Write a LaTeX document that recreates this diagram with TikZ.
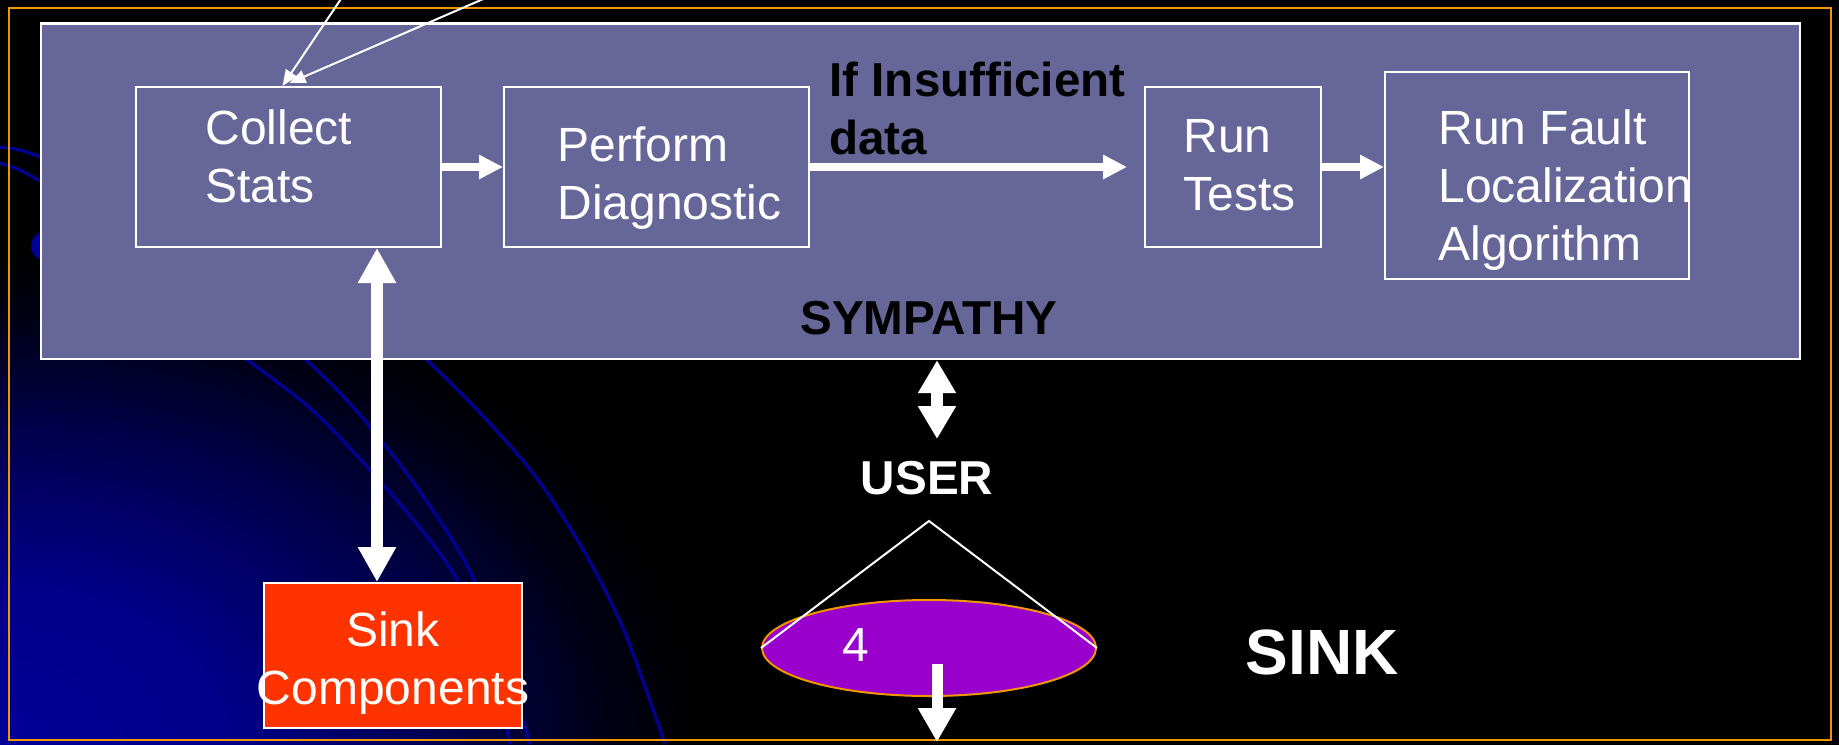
\documentclass[tikz,border=0pt]{standalone}
\usepackage{fontspec}
\setmainfont{Liberation Sans}
\usetikzlibrary{arrows.meta,fit,calc,shapes.geometric}
\definecolor{boxfill}{RGB}{102,102,153}
\definecolor{sinkred}{RGB}{255,51,0}
\definecolor{ellpurple}{RGB}{153,0,204}
\definecolor{frameorange}{RGB}{240,150,0}
\definecolor{arcblue}{RGB}{0,0,150}
\definecolor{glowblue}{RGB}{0,0,153}
\pgfdeclareradialshading{glow}{\pgfpoint{0bp}{0bp}}{color(0bp)=(glowblue); color(8bp)=(glowblue!90!black); color(16bp)=(glowblue!50!black); color(22bp)=(glowblue!12!black); color(25bp)=(black); color(50bp)=(black)}
\begin{document}
\begin{tikzpicture}[x=0.5pt,y=-0.5pt,
  panel/.style={draw=white, line width=1.2pt, fill=boxfill, inner sep=0pt},
  stepbox/.style={draw=white, line width=1pt, inner sep=0pt},
  txt/.style={text=white, font=\fontsize{24}{29}\selectfont, align=left, inner sep=0pt, anchor=north west},
  btxt/.style={font=\bfseries\fontsize{23.8}{29}\selectfont, inner sep=0pt},
  harrow/.style={white, line width=4pt, -{Triangle[length=12pt,width=11.5pt]}},
  varrow/.style={white, line width=6pt, {Triangle[length=17.5pt,width=18pt]}-{Triangle[length=17.5pt,width=18pt]}},
  thinarrow/.style={white, line width=1pt, -{Triangle[length=8pt,width=6.5pt]}},
  bgarc/.style={arcblue, line width=1.6pt}
]
\useasboundingbox (0,0) rectangle (1839,744);
% background
\begin{scope}
\clip (-6,-6) rectangle (1845,750);
\fill[black] (-6,-6) rectangle (1845,750);
\shade[shading=glow] (0,744) ellipse (700 and 490);
\draw[bgarc] plot[smooth] coordinates {(-10,146) (20,150) (48,160)};
\draw[bgarc] plot[smooth] coordinates {(-10,160) (20,170) (48,186)};
\draw[bgarc] plot[smooth] coordinates {(195,325) (250,362) (312,410) (370,470) (424,533) (458,582) (490,660) (510,744)};
\draw[bgarc] plot[smooth] coordinates {(258,322) (308,362) (353,407) (402,467) (446,530) (475,582) (505,660) (530,744)};
\draw[bgarc] plot[smooth] coordinates {(385,322) (429,362) (482,415) (536,477) (585,553) (625,633) (665,744)};
\fill[glowblue] (46,246) circle (15);
\end{scope}
\draw[frameorange, line width=1.2pt] (9,8) rectangle (1831,740);

% panel and boxes
\node[panel, fit={(41,23.5) (1800,359)}] (symp) {};
\node[stepbox, fit={(136,87) (441,247)}] (collect) {};
\node[stepbox, fit={(504,87) (809,247)}] (perform) {};
\node[stepbox, fit={(1145,87) (1321,247)}] (runtests) {};
\node[stepbox, fit={(1385,72) (1689,279)}] (fault) {};
\node[stepbox, fill=sinkred, fit={(264,583) (522,728)}] (sink) {};
\node[ellipse, draw=frameorange, line width=1pt, fill=ellpurple, minimum width=167pt, minimum height=48pt, inner sep=0pt] (ell) at (929,648) {};

% texts
\node[txt] (tcollect) at (205,109) {Collect\\Stats};
\node[txt] (tperform) at (557,126) {Perform\\Diagnostic};
\node[txt] (truntests) at (1183,119) {Run\\Tests};
\node[txt] (tfault) at (1438,109) {Run Fault\\Localization\\Algorithm};
\node[btxt, anchor=north west, align=left, text=black] (insuf) at (829,62) {If Insufficient\\data};
\node[txt, align=center, anchor=north] (tsink) at (393,611) {Sink\\Components};
\node[btxt, text=black] (sympathy) at (929,318) {SYMPATHY};
\node[btxt, text=white] (user) at (927,478) {USER};
\node[font=\bfseries\fontsize{32}{38}\selectfont, text=white, inner sep=0pt] (sinklabel) at (1322,652) {SINK};
\node[font=\fontsize{24}{29}\selectfont, text=white, inner sep=0pt] (four) at (856,645) {4};

% connectors
\draw[harrow] (collect.east) -- (perform.west);
\draw[harrow] (perform.east) -- ($(runtests.west)+(-17,0)$);
\draw[harrow] (runtests.east) -- (fault.west |- runtests.east);

\coordinate (cs) at (377,0);
\draw[varrow] (collect.south -| cs) -- (sink.north -| cs);

\coordinate (ua) at (937,439);
\draw[white, line width=6pt, {Triangle[length=16.5pt,width=18pt]}-{Triangle[length=16.5pt,width=18pt]}] (symp.south -| ua) -- (ua);

\coordinate (apex) at (929,521);
\draw[white, line width=1pt] (ell.west) -- (apex) -- (ell.east);

\coordinate (dstart) at (937,664);
\coordinate (dend) at (937,742);
\draw[white, line width=5.5pt, -{Triangle[length=17pt,width=18pt]}] (dstart) -- (dend);

\coordinate (t1) at (347,-10);
\coordinate (t2) at (504,-10);
\draw[thinarrow] (t1) -- ($(collect.north)+(-6,0)$);
\draw[thinarrow] (t2) -- ($(collect.north)+(1,-3)$);
\end{tikzpicture}
\end{document}
